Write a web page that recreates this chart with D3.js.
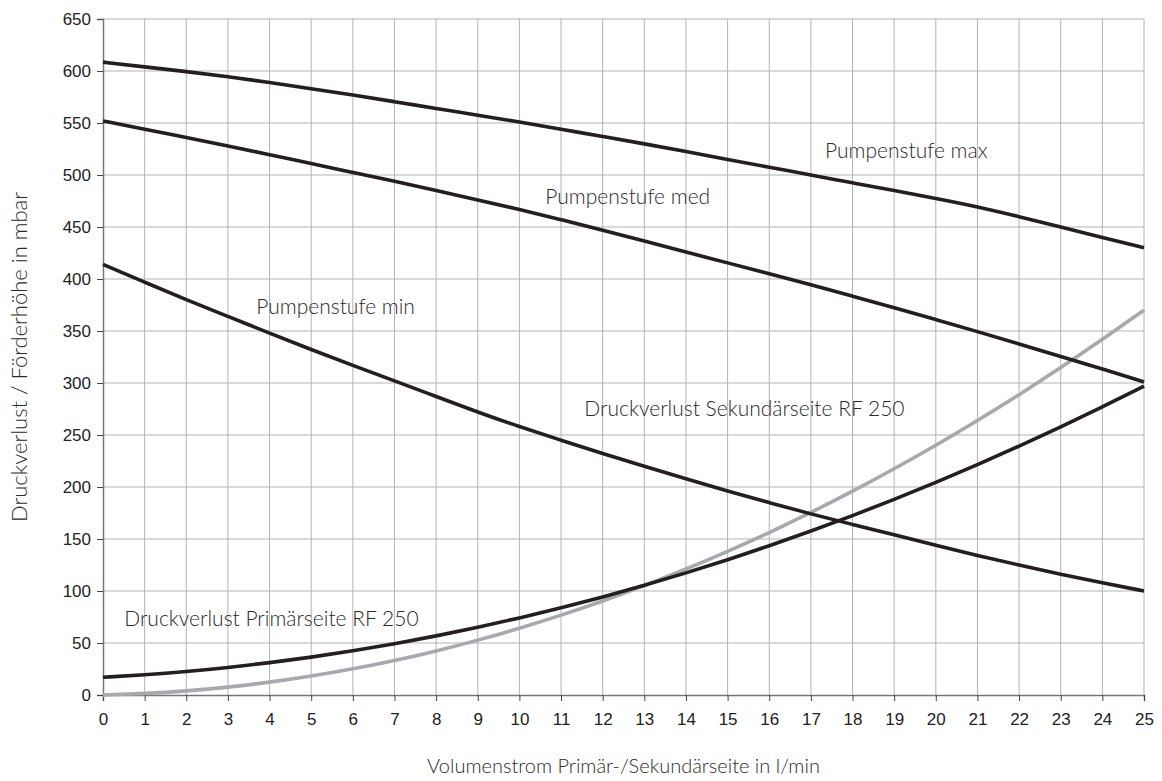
<!DOCTYPE html>
<html>
<head>
<meta charset="utf-8">
<script src="https://cdn.jsdelivr.net/npm/d3@7"></script>
<style>
  body { margin: 0; background: #fff; }
  svg { display: block; }
</style>
</head>
<body>
<div id="chart"></div>
<script>
// Volumenstrom in l/min
const flow = d3.range(0, 26);

const pumpeMax = [608.5, 604, 599.5, 594.5, 589, 583, 577, 570.5, 564, 557.5, 551, 544, 537, 530, 522.5, 515, 507.5, 500, 492.5, 485, 477.5, 469.5, 460, 450, 440, 430];
const pumpeMed = [552, 544, 536, 528, 519.5, 511, 502.5, 494, 485, 476, 467, 457, 447, 436.5, 426, 415.5, 405, 394.5, 383.5, 372.5, 361, 349.5, 337.5, 325.5, 313.5, 301];
const pumpeMin = [414, 397, 380, 364, 348, 332, 317, 302, 287, 272, 258, 245, 232, 220, 208, 196, 185, 174, 164, 154, 144, 134, 125, 116, 108, 100];
const verlustSek = [17, 19.4, 22.5, 26.4, 31, 36.3, 42.4, 49.2, 56.7, 65, 74, 83.8, 94.2, 105.4, 117.3, 130, 143.4, 157.5, 172.4, 188, 204.3, 221.4, 239.2, 257.8, 277, 297];
const verlustPrim = [0, 1.4, 3.8, 7.4, 12.2, 18, 25, 33, 42.2, 52.6, 64, 76.6, 90.2, 105, 121, 138, 156, 175.4, 195.8, 217.4, 240, 263.8, 288.6, 314.6, 341.8, 370];

const xTicks = d3.range(0, 26);
const yTicks = d3.range(0, 651, 50);

// Beschriftungen an den Kurven (Datenkoordinaten)
const labels = [
  { text: "Pumpenstufe max", x: 17.34, y: 516 },
  { text: "Pumpenstufe med", x: 10.62, y: 472 },
  { text: "Pumpenstufe min", x: 3.68, y: 366 },
  { text: "Druckverlust Sekundärseite RF 250", x: 11.56, y: 268 },
  { text: "Druckverlust Primärseite RF 250", x: 0.51, y: 66 }
];

const series = [
  { values: verlustPrim, color: "#a7a9ac" },
  { values: verlustSek, color: "#231f20" },
  { values: pumpeMin, color: "#231f20" },
  { values: pumpeMed, color: "#231f20" },
  { values: pumpeMax, color: "#231f20" }
];

const svgWidth = 1162, svgHeight = 781;
const margin = { top: 19, right: 18, bottom: 86, left: 103 };
const width = svgWidth - margin.left - margin.right;
const height = svgHeight - margin.top - margin.bottom;

const labelFont = "Lato, 'Open Sans', sans-serif";

const svg = d3.select("#chart")
  .append("svg")
  .attr("width", svgWidth)
  .attr("height", svgHeight);

const g = svg.append("g")
  .attr("transform", `translate(${margin.left}, ${margin.top})`);

const x = d3.scaleLinear().domain([0, 25]).range([0, width]);
const y = d3.scaleLinear().domain([0, 650]).range([height, 0]);

// Gitter
g.append("g")
  .selectAll("line")
  .data(xTicks.slice(1))
  .join("line")
  .attr("x1", d => x(d)).attr("x2", d => x(d))
  .attr("y1", 0).attr("y2", height)
  .attr("stroke", "#b3b3b3")
  .attr("stroke-width", 1);

g.append("g")
  .selectAll("line")
  .data(yTicks.slice(1))
  .join("line")
  .attr("x1", 0).attr("x2", width)
  .attr("y1", d => y(d)).attr("y2", d => y(d))
  .attr("stroke", "#b3b3b3")
  .attr("stroke-width", 1);

// Achsen
const xAxis = g.append("g")
  .attr("transform", `translate(0, ${height})`)
  .call(d3.axisBottom(x).tickValues(xTicks).tickSize(6).tickPadding(12).tickFormat(d3.format("d")));

const yAxis = g.append("g")
  .call(d3.axisLeft(y).tickValues(yTicks).tickSize(6).tickPadding(6).tickFormat(d3.format("d")));

[xAxis, yAxis].forEach(a => {
  a.select(".domain").attr("stroke", "#777").attr("stroke-width", 1.5);
  a.selectAll(".tick line").attr("stroke", "#444");
  a.selectAll(".tick text")
    .attr("fill", "#222")
    .style("font-family", "'Liberation Sans', Arial, sans-serif")
    .style("font-size", "17px");
});

// Kurven
const line = d3.line()
  .x((d, i) => x(flow[i]))
  .y(d => y(d))
  .curve(d3.curveBasis);

g.append("g")
  .selectAll("path")
  .data(series)
  .join("path")
  .attr("fill", "none")
  .attr("stroke", d => d.color)
  .attr("stroke-width", 3.6)
  .attr("d", d => line(d.values));

// Kurvenbeschriftungen
g.append("g")
  .selectAll("text")
  .data(labels)
  .join("text")
  .attr("x", d => x(d.x))
  .attr("y", d => y(d.y))
  .attr("fill", "#2a2a2a")
  .style("font-family", labelFont)
  .style("font-weight", 300)
  .style("font-size", "21px")
  .text(d => d.text);

// Achsentitel
svg.append("text")
  .attr("x", margin.left + width / 2)
  .attr("y", 773)
  .attr("text-anchor", "middle")
  .attr("fill", "#2a2a2a")
  .style("font-family", labelFont)
  .style("font-weight", 300)
  .style("font-size", "20px")
  .text("Volumenstrom Primär-/Sekundärseite in l/min");

svg.append("text")
  .attr("transform", `translate(27, ${margin.top + height / 2}) rotate(-90)`)
  .attr("text-anchor", "middle")
  .attr("fill", "#2a2a2a")
  .style("font-family", labelFont)
  .style("font-weight", 300)
  .style("font-size", "22px")
  .text("Druckverlust / Förderhöhe in mbar");
</script>
</body>
</html>
